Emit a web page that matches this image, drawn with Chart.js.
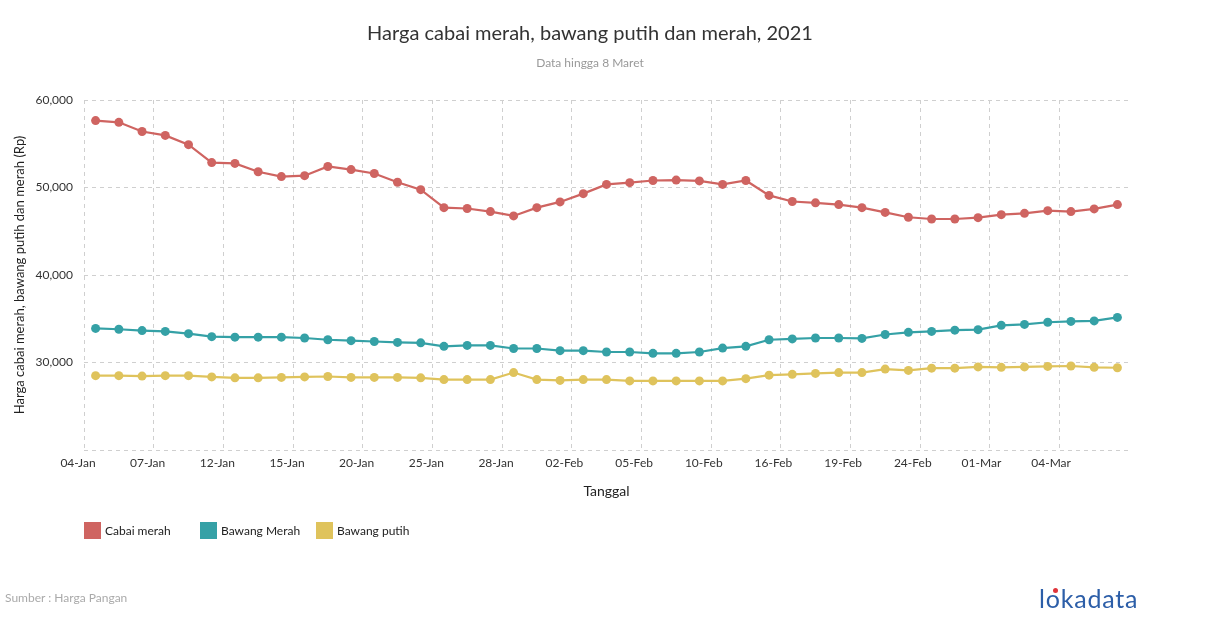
<!DOCTYPE html>
<html>
<head>
<meta charset="utf-8">
<script src="https://cdn.jsdelivr.net/npm/chart.js@4/dist/chart.umd.min.js"></script>
<style>
  html, body { margin: 0; padding: 0; background: #fff; }
  body { width: 1210px; height: 628px; position: relative; overflow: hidden; font-family: Lato, "Open Sans", sans-serif; }
  #wrap { position: absolute; left: 0; top: 0; width: 1210px; height: 628px; }
  .txt { position: absolute; white-space: nowrap; }
  #title { left: 0; width: 1180px; top: 20px; text-align: center; font-size: 20px; color: #333; }
  #subtitle { left: 0; width: 1180px; top: 55px; text-align: center; font-size: 12px; color: #999; }
  #legend { position: absolute; left: 84px; top: 522px; height: 17px; width: 500px; }
  .li { position: absolute; top: 0; font-size: 12px; color: #222; line-height: 17px; white-space: nowrap; }
  .sw { display: inline-block; width: 17px; height: 17px; vertical-align: top; margin-right: 4px; }
  #source { left: 5px; top: 590px; font-size: 12px; color: #aaa; }
  #logo { left: 1039px; top: 583px; font-size: 25px; color: #2c5ea8; letter-spacing: 0.8px; }
</style>
</head>
<body>
<div id="wrap"><canvas id="c" width="1210" height="628"></canvas></div>
<div class="txt" id="title">Harga cabai merah, bawang putih dan merah, 2021</div>
<div class="txt" id="subtitle">Data hingga 8 Maret</div>
<div id="legend"></div>
<div class="txt" id="source">Sumber : Harga Pangan</div>
<div class="txt" id="logo">l<span style="color:#2c5ea8;position:relative">o<span style="position:absolute;left:7px;top:5px;width:5px;height:5px;background:#e0343a;border-radius:50%"></span></span>kadata</div>
<script>
// ---- data ----
const dates = [
  "04-Jan","05-Jan","06-Jan","07-Jan","08-Jan",
  "11-Jan","12-Jan","13-Jan","14-Jan","15-Jan",
  "18-Jan","19-Jan","20-Jan","21-Jan","22-Jan",
  "25-Jan","26-Jan","27-Jan","28-Jan","29-Jan",
  "01-Feb","02-Feb","03-Feb","04-Feb","05-Feb",
  "08-Feb","09-Feb","10-Feb","11-Feb",
  "15-Feb","16-Feb","17-Feb","18-Feb","19-Feb",
  "22-Feb","23-Feb","24-Feb","25-Feb","26-Feb",
  "01-Mar","02-Mar","03-Mar","04-Mar","05-Mar","08-Mar"
];
const cabaiMerah = [
  57650,57450,56400,55950,54900,
  52850,52750,51800,51250,51350,
  52400,52050,51600,50600,49750,
  47700,47600,47250,46750,47700,
  48350,49300,50350,50550,50800,
  50850,50750,50350,50800,
  49100,48400,48250,48050,47700,
  47150,46600,46400,46400,46550,
  46900,47050,47350,47250,47550,48050
];
const bawangMerah = [
  33900,33800,33650,33550,33300,
  32950,32900,32900,32900,32800,
  32600,32500,32400,32300,32250,
  31850,31950,31950,31600,31600,
  31350,31350,31200,31200,31050,
  31050,31200,31650,31850,
  32600,32700,32800,32800,32750,
  33200,33450,33550,33700,33750,
  34250,34350,34600,34700,34750,35150
];
const bawangPutih = [
  28500,28500,28450,28500,28500,
  28350,28250,28250,28300,28350,
  28400,28300,28300,28300,28250,
  28050,28050,28050,28850,28050,
  27950,28050,28050,27900,27900,
  27900,27900,27900,28150,
  28550,28650,28750,28850,28850,
  29250,29100,29350,29350,29500,
  29450,29500,29550,29600,29450,29400
];
const seriesNames = ["Cabai merah","Bawang Merah","Bawang putih"];
const seriesColors = ["#cf6461","#35a1a6","#dfc35c"];
const yTicks = [20000,30000,40000,50000,60000];
const labelEvery = 3;

// ---- legend (HTML text) ----
const legend = document.getElementById('legend');
seriesNames.forEach((n,i) => {
  const d = document.createElement('div');
  d.className = 'li';
  d.style.left = (i*116) + 'px';
  d.innerHTML = '<span class="sw" style="background:' + seriesColors[i] + '"></span>' + n;
  legend.appendChild(d);
});

const values = [cabaiMerah, bawangMerah, bawangPutih];
const datasets = values.map((v,i) => ({
  label: seriesNames[i],
  data: v,
  borderColor: seriesColors[i],
  backgroundColor: seriesColors[i],
  borderWidth: 2.2,
  pointRadius: 4.5,
  pointBorderWidth: 0,
  pointHoverRadius: 5,
  tension: 0
}));

const fontFam = 'Lato, "Open Sans", sans-serif';
new Chart(document.getElementById('c'), {
  type: 'line',
  data: { labels: dates, datasets },
  options: {
    responsive: false,
    animation: false,
    devicePixelRatio: 1,
    layout: { padding: { left: 0, top: 100, right: 81, bottom: 128 } },
    plugins: { legend: { display: false }, title: { display: false }, tooltip: { enabled: false } },
    scales: {
      x: {
        type: 'category',
        offset: true,
        grid: {
          offset: true,
          drawTicks: false,
          color: (ctx) => (ctx.index % labelEvery === 0) ? '#cfcfcf' : 'rgba(0,0,0,0)',
          lineWidth: 1
        },
        border: { display: false, dash: [4,4] },
        ticks: {
          autoSkip: false,
          maxRotation: 0,
          minRotation: 0,
          align: 'end',
          padding: 6,
          color: '#333',
          font: { family: fontFam, size: 12 },
          callback: function(val, i) { return (i % labelEvery === 0) ? dates[i] : ''; }
        },
        title: { display: true, text: 'Tanggal', color: '#222', font: { family: fontFam, size: 14 }, padding: { top: 2, bottom: 0 } },
        afterFit: (s) => { s.height = 50; }
      },
      y: {
        min: yTicks[0],
        max: yTicks[yTicks.length-1],
        afterBuildTicks: (s) => { s.ticks = yTicks.map(v => ({ value: v })); },
        grid: { drawTicks: false, color: '#cfcfcf', lineWidth: 1 },
        border: { display: false, dash: [4,4] },
        ticks: {
          padding: 11,
          color: '#333',
          font: { family: fontFam, size: 12 },
          callback: (v) => v === yTicks[0] ? '' : Number(v).toLocaleString('en-US')
        },
        title: { display: true, text: 'Harga cabai merah, bawang putih dan merah (Rp)', color: '#222', font: { family: fontFam, size: 13 }, padding: { top: 12, bottom: 0 } },
        afterFit: (s) => { s.width = 84; }
      }
    }
  }
});
</script>
</body>
</html>
